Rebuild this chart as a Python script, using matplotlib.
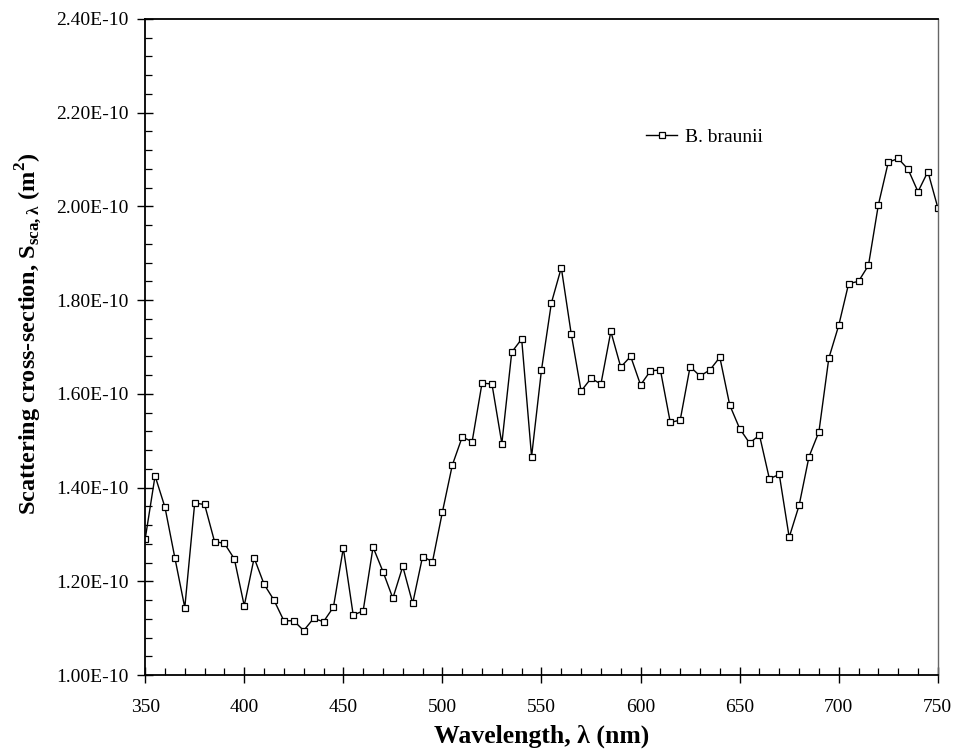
import matplotlib
matplotlib.use('Agg')
import matplotlib.pyplot as plt
from matplotlib.ticker import MultipleLocator, FuncFormatter

plt.rcParams['font.family'] = ['Liberation Serif', 'DejaVu Serif']
plt.rcParams['mathtext.fontset'] = 'custom'
plt.rcParams['mathtext.rm'] = 'Liberation Serif'
plt.rcParams['mathtext.bf'] = 'Liberation Serif:bold'

# wavelength (nm)
wavelength = list(range(350, 751, 5))

# scattering cross-section, units of 1e-10 m^2
s_sca = [
    1.290, 1.425, 1.358, 1.250, 1.144, 1.367, 1.364, 1.285, 1.281, 1.248,
    1.148, 1.250, 1.194, 1.160, 1.116, 1.116, 1.095, 1.121, 1.114, 1.145,
    1.271, 1.128, 1.137, 1.273, 1.221, 1.164, 1.232, 1.153, 1.253, 1.242,
    1.348, 1.448, 1.508, 1.498, 1.623, 1.621, 1.494, 1.689, 1.717, 1.466,
    1.651, 1.794, 1.869, 1.728, 1.606, 1.633, 1.621, 1.733, 1.657, 1.680,
    1.619, 1.649, 1.651, 1.539, 1.544, 1.658, 1.638, 1.651, 1.678, 1.576,
    1.526, 1.495, 1.512, 1.419, 1.428, 1.294, 1.362, 1.466, 1.519, 1.676,
    1.746, 1.835, 1.840, 1.874, 2.003, 2.094, 2.102, 2.079, 2.031, 2.074,
    1.997,
]
s_sca = [v * 1e-10 for v in s_sca]

x_ticks = [350, 400, 450, 500, 550, 600, 650, 700, 750]
y_ticks = [1.0e-10, 1.2e-10, 1.4e-10, 1.6e-10, 1.8e-10, 2.0e-10, 2.2e-10, 2.4e-10]

fig = plt.figure(figsize=(9.55, 7.51), dpi=100)
ax = fig.add_axes([0.152, 0.101, 0.830, 0.874])

ax.plot(wavelength, s_sca, color='black', linewidth=1.0, marker='s',
        markersize=5, markerfacecolor='white', markeredgecolor='black',
        markeredgewidth=0.9, label='B. braunii')

ax.set_xlim(350, 750)
ax.set_ylim(1.0e-10, 2.4e-10)
ax.set_xticks(x_ticks)
ax.set_yticks(y_ticks)
ax.xaxis.set_minor_locator(MultipleLocator(10))
ax.yaxis.set_minor_locator(MultipleLocator(0.04e-10))
ax.yaxis.set_major_formatter(FuncFormatter(lambda v, p: f'{v:.2E}'))

ax.tick_params(which='major', direction='inout', length=12, width=1.0,
               labelsize=14, top=False, right=False)
ax.tick_params(axis='x', which='major', pad=11)
ax.tick_params(axis='y', which='major', pad=6)
ax.tick_params(which='minor', direction='in', length=5, width=0.9,
               top=False, right=False)
for side in ['left', 'bottom', 'top']:
    ax.spines[side].set_linewidth(1.3)
ax.spines['right'].set_linewidth(1.0)
ax.spines['right'].set_color('#666666')

ax.set_xlabel('Wavelength, λ (nm)', fontsize=18.5, fontweight='bold', labelpad=6)
ax.set_ylabel(r'Scattering cross-section, S$_{\mathregular{sca,λ}}$ (m$^{\mathregular{2}}$)',
              fontsize=17.5, fontweight='bold')
ax.yaxis.set_label_coords(-0.127, 0.52)

ax.legend(loc='upper left', bbox_to_anchor=(0.61, 0.86), frameon=False,
          fontsize=14, handlelength=1.6, handletextpad=0.4)

fig.savefig('out.png', dpi=100)
